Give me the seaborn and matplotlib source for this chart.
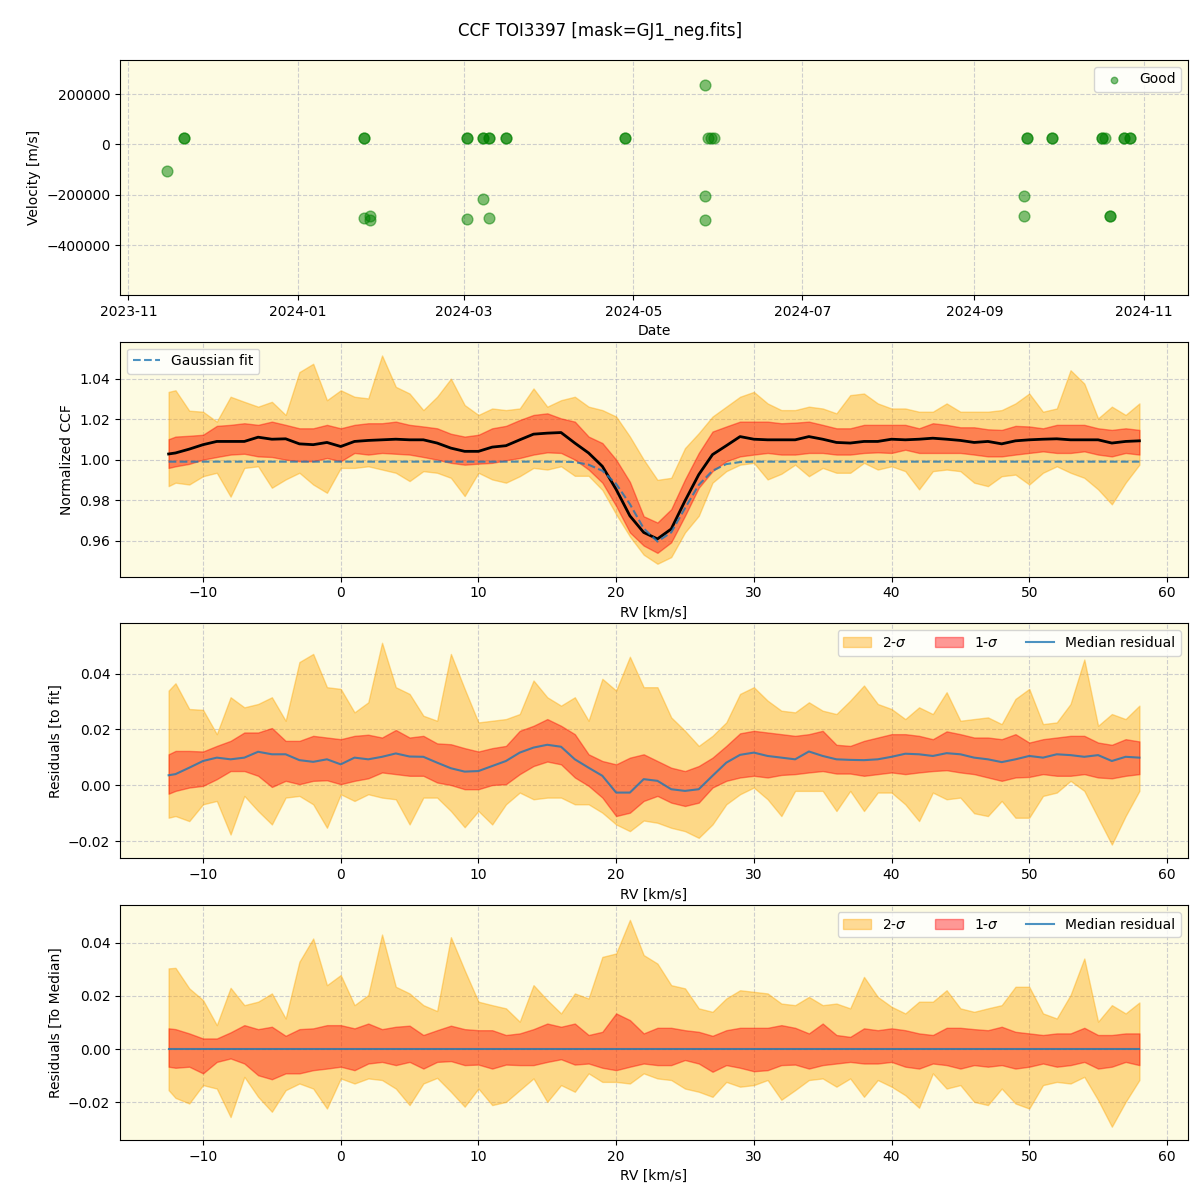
import pandas as pd
import matplotlib
matplotlib.use("Agg")
import matplotlib.pyplot as plt
import matplotlib.dates as mdates
from matplotlib.ticker import MultipleLocator
from matplotlib.patches import Patch
from matplotlib.lines import Line2D
import seaborn as sns

# %% top panel: RV per observation
obs_dates = [
    "2023-11-15", "2023-11-21", "2023-11-21",
    "2024-01-25", "2024-01-25", "2024-01-25", "2024-01-27", "2024-01-27",
    "2024-03-02", "2024-03-02", "2024-03-02",
    "2024-03-08", "2024-03-08", "2024-03-08", "2024-03-10", "2024-03-10", "2024-03-10",
    "2024-03-16", "2024-03-16", "2024-04-28", "2024-04-28",
    "2024-05-27", "2024-05-28", "2024-05-29", "2024-05-30", "2024-05-27", "2024-05-27",
    "2024-09-19", "2024-09-19", "2024-09-20", "2024-09-20", "2024-09-29", "2024-09-29",
    "2024-10-17", "2024-10-17", "2024-10-18", "2024-10-20", "2024-10-20",
    "2024-10-25", "2024-10-25", "2024-10-27", "2024-10-27",
]
obs_vel = [
    -104000, 24000, 24000,
    24000, 24000, -292000, -283000, -300000,
    24000, 24000, -296000,
    24000, 24000, -215000, 24000, 24000, -292000,
    24000, 24000, 24000, 24000,
    236000, 24000, 24000, 24000, -204000, -300000,
    -204000, -284000, 24000, 24000, 24000, 24000,
    24000, 24000, 24000, -283000, -283000,
    24000, 24000, 24000, 24000,
]

# %% RV grid (km/s)
rv = [-12.5, -12, -11, -10, -9, -8, -7, -6, -5, -4,
      -3, -2, -1, 0, 1, 2, 3, 4, 5, 6,
      7, 8, 9, 10, 11, 12, 13, 14, 15, 16,
      17, 18, 19, 20, 21, 22, 23, 24, 25, 26,
      27, 28, 29, 30, 31, 32, 33, 34, 35, 36,
      37, 38, 39, 40, 41, 42, 43, 44, 45, 46,
      47, 48, 49, 50, 51, 52, 53, 54, 55, 56,
      57, 58]

# %% normalized CCF
ccf_median = [1.0028, 1.0033, 1.0052, 1.0074, 1.0090, 1.0090, 1.0090, 1.0111, 1.0101, 1.0103,
              1.0078, 1.0074, 1.0085, 1.0065, 1.0090, 1.0095, 1.0098, 1.0101, 1.0098, 1.0098,
              1.0082, 1.0057, 1.0041, 1.0041, 1.0062, 1.0069, 1.0098, 1.0126, 1.0131, 1.0134,
              1.0082, 1.0033, 0.9967, 0.9853, 0.9722, 0.9640, 0.9608, 0.9657, 0.9796, 0.9926,
              1.0025, 1.0069, 1.0114, 1.0101, 1.0098, 1.0098, 1.0098, 1.0114, 1.0101, 1.0085,
              1.0082, 1.0090, 1.0090, 1.0101, 1.0098, 1.0101, 1.0106, 1.0101, 1.0095, 1.0085,
              1.0090, 1.0078, 1.0093, 1.0098, 1.0101, 1.0103, 1.0098, 1.0098, 1.0098, 1.0082,
              1.0090, 1.0093]
ccf_1s_hi = [1.0101, 1.0114, 1.0118, 1.0123, 1.0167, 1.0172, 1.0180, 1.0172, 1.0188, 1.0172,
             1.0155, 1.0155, 1.0172, 1.0155, 1.0172, 1.0180, 1.0180, 1.0188, 1.0172, 1.0164,
             1.0155, 1.0128, 1.0114, 1.0123, 1.0155, 1.0167, 1.0196, 1.0221, 1.0229, 1.0204,
             1.0188, 1.0114, 1.0082, 1.0000, 0.9890, 0.9720, 0.9689, 0.9755, 0.9902, 1.0033,
             1.0139, 1.0164, 1.0188, 1.0188, 1.0188, 1.0180, 1.0183, 1.0188, 1.0172, 1.0155,
             1.0155, 1.0172, 1.0172, 1.0172, 1.0172, 1.0155, 1.0180, 1.0172, 1.0160, 1.0160,
             1.0150, 1.0147, 1.0167, 1.0164, 1.0155, 1.0172, 1.0172, 1.0172, 1.0155, 1.0147,
             1.0155, 1.0147]
ccf_1s_lo = [0.9959, 0.9967, 0.9979, 1.0000, 1.0013, 1.0025, 1.0029, 1.0016, 1.0013, 1.0000,
             0.9992, 0.9992, 1.0008, 0.9992, 1.0033, 1.0025, 1.0033, 1.0029, 1.0025, 1.0013,
             1.0000, 0.9984, 0.9975, 0.9980, 0.9984, 0.9997, 1.0008, 1.0025, 1.0036, 1.0033,
             1.0000, 0.9951, 0.9886, 0.9771, 0.9640, 0.9575, 0.9539, 0.9591, 0.9722, 0.9861,
             0.9943, 0.9992, 1.0016, 1.0025, 1.0033, 1.0025, 1.0025, 1.0033, 1.0033, 1.0025,
             1.0025, 1.0033, 1.0036, 1.0033, 1.0049, 1.0033, 1.0033, 1.0033, 1.0033, 1.0025,
             1.0016, 1.0016, 1.0025, 1.0033, 1.0041, 1.0033, 1.0033, 1.0041, 1.0025, 1.0016,
             1.0033, 1.0025]
ccf_2s_hi = [1.0335, 1.0343, 1.0242, 1.0237, 1.0188, 1.0311, 1.0286, 1.0262, 1.0286, 1.0221,
             1.0433, 1.0474, 1.0294, 1.0343, 1.0311, 1.0303, 1.0515, 1.0360, 1.0327, 1.0245,
             1.0311, 1.0400, 1.0270, 1.0221, 1.0253, 1.0245, 1.0253, 1.0352, 1.0262, 1.0294,
             1.0311, 1.0262, 1.0245, 1.0213, 1.0114, 1.0000, 0.9900, 0.9910, 1.0057, 1.0131,
             1.0213, 1.0262, 1.0311, 1.0335, 1.0278, 1.0245, 1.0245, 1.0262, 1.0253, 1.0229,
             1.0319, 1.0327, 1.0278, 1.0253, 1.0253, 1.0237, 1.0237, 1.0278, 1.0237, 1.0237,
             1.0237, 1.0245, 1.0278, 1.0327, 1.0237, 1.0253, 1.0442, 1.0376, 1.0204, 1.0262,
             1.0221, 1.0278]
ccf_2s_lo = [0.9869, 0.9886, 0.9877, 0.9918, 0.9935, 0.9817, 0.9959, 0.9967, 0.9861, 0.9902,
             0.9935, 0.9877, 0.9836, 0.9959, 0.9959, 0.9967, 0.9951, 0.9935, 0.9894, 0.9943,
             0.9935, 0.9910, 0.9820, 0.9935, 0.9902, 0.9886, 0.9918, 0.9959, 0.9951, 0.9967,
             0.9920, 0.9920, 0.9850, 0.9730, 0.9620, 0.9530, 0.9485, 0.9518, 0.9640, 0.9722,
             0.9886, 0.9943, 0.9975, 0.9984, 0.9902, 0.9930, 0.9975, 0.9918, 0.9959, 0.9935,
             0.9935, 0.9984, 0.9951, 0.9967, 0.9943, 0.9853, 0.9943, 0.9951, 0.9943, 0.9886,
             0.9869, 0.9918, 0.9926, 0.9877, 0.9935, 0.9967, 0.9935, 0.9910, 0.9853, 0.9779,
             0.9886, 0.9975]
gauss_fit = [0.999, 0.999, 0.999, 0.999, 0.999, 0.999, 0.999, 0.999, 0.999, 0.999,
             0.999, 0.999, 0.999, 0.999, 0.999, 0.999, 0.999, 0.999, 0.999, 0.999,
             0.999, 0.999, 0.999, 0.999, 0.999, 0.999, 0.999, 0.999, 0.999, 0.999,
             0.9988, 0.9975, 0.9945, 0.9880, 0.9780, 0.9660, 0.9595, 0.9640, 0.9760, 0.9875,
             0.9945, 0.9978, 0.9988, 0.999, 0.999, 0.999, 0.999, 0.999, 0.999, 0.999,
             0.999, 0.999, 0.999, 0.999, 0.999, 0.999, 0.999, 0.999, 0.999, 0.999,
             0.999, 0.999, 0.999, 0.999, 0.999, 0.999, 0.999, 0.999, 0.999, 0.999,
             0.999, 0.999]

# %% residuals to the Gaussian fit
fit_median = [0.0036, 0.0040, 0.0063, 0.0087, 0.0099, 0.0093, 0.0099, 0.0120, 0.0111, 0.0111,
              0.0090, 0.0084, 0.0093, 0.0075, 0.0099, 0.0093, 0.0102, 0.0114, 0.0103, 0.0102,
              0.0081, 0.0061, 0.0049, 0.0051, 0.0069, 0.0087, 0.0117, 0.0135, 0.0145, 0.0138,
              0.0093, 0.0063, 0.0034, -0.0026, -0.0026, 0.0022, 0.0016, -0.0014, -0.0020, -0.0014,
              0.0034, 0.0081, 0.0109, 0.0117, 0.0105, 0.0099, 0.0093, 0.0121, 0.0105, 0.0093,
              0.0091, 0.0090, 0.0093, 0.0102, 0.0113, 0.0111, 0.0105, 0.0115, 0.0111, 0.0099,
              0.0093, 0.0083, 0.0093, 0.0105, 0.0099, 0.0111, 0.0108, 0.0102, 0.0108, 0.0087,
              0.0102, 0.0099]
fit_1s_hi = [0.0111, 0.0123, 0.0123, 0.0121, 0.0141, 0.0159, 0.0189, 0.0189, 0.0205, 0.0159,
             0.0159, 0.0177, 0.0171, 0.0165, 0.0177, 0.0181, 0.0171, 0.0198, 0.0171, 0.0177,
             0.0150, 0.0147, 0.0133, 0.0121, 0.0133, 0.0141, 0.0195, 0.0213, 0.0237, 0.0213,
             0.0183, 0.0111, 0.0087, 0.0075, 0.0099, 0.0111, 0.0087, 0.0063, 0.0051, 0.0069,
             0.0099, 0.0141, 0.0186, 0.0195, 0.0189, 0.0183, 0.0177, 0.0183, 0.0195, 0.0145,
             0.0141, 0.0159, 0.0171, 0.0183, 0.0183, 0.0177, 0.0165, 0.0193, 0.0183, 0.0171,
             0.0171, 0.0165, 0.0183, 0.0153, 0.0165, 0.0171, 0.0177, 0.0177, 0.0153, 0.0145,
             0.0165, 0.0157]
fit_1s_lo = [-0.0030, -0.0020, -0.0008, -0.0002, 0.0022, 0.0051, 0.0051, 0.0034, -0.0006, 0.0016,
             0.0004, 0.0016, 0.0018, 0.0004, 0.0016, 0.0025, 0.0046, 0.0040, 0.0034, 0.0034,
             0.0010, 0.0001, -0.0014, -0.0014, 0.0001, 0.0004, 0.0040, 0.0069, 0.0085, 0.0075,
             0.0028, -0.0002, -0.0044, -0.0110, -0.0098, -0.0056, -0.0038, -0.0062, -0.0074, -0.0062,
             -0.0008, 0.0016, 0.0028, 0.0034, 0.0028, 0.0037, 0.0040, 0.0046, 0.0051, 0.0042,
             0.0042, 0.0034, 0.0040, 0.0046, 0.0040, 0.0046, 0.0051, 0.0054, 0.0046, 0.0040,
             0.0028, 0.0016, 0.0028, 0.0030, 0.0040, 0.0034, 0.0034, 0.0040, 0.0028, 0.0025,
             0.0034, 0.0040]
fit_2s_hi = [0.0339, 0.0365, 0.0273, 0.0270, 0.0183, 0.0315, 0.0279, 0.0291, 0.0315, 0.0231,
             0.0441, 0.0470, 0.0351, 0.0345, 0.0261, 0.0297, 0.0510, 0.0351, 0.0327, 0.0249,
             0.0231, 0.0470, 0.0345, 0.0225, 0.0231, 0.0237, 0.0255, 0.0375, 0.0315, 0.0285,
             0.0315, 0.0231, 0.0381, 0.0339, 0.0460, 0.0351, 0.0351, 0.0243, 0.0195, 0.0141,
             0.0177, 0.0225, 0.0327, 0.0351, 0.0303, 0.0267, 0.0261, 0.0297, 0.0267, 0.0255,
             0.0303, 0.0357, 0.0291, 0.0273, 0.0237, 0.0279, 0.0255, 0.0333, 0.0231, 0.0237,
             0.0243, 0.0219, 0.0309, 0.0345, 0.0219, 0.0225, 0.0291, 0.0450, 0.0213, 0.0255,
             0.0237, 0.0285]
fit_2s_lo = [-0.0116, -0.0110, -0.0128, -0.0068, -0.0056, -0.0176, -0.0038, -0.0092, -0.0140, -0.0044,
             -0.0038, -0.0068, -0.0152, -0.0032, -0.0056, -0.0032, -0.0044, -0.0050, -0.0140, -0.0044,
             -0.0044, -0.0092, -0.0150, -0.0092, -0.0140, -0.0068, -0.0026, -0.0050, -0.0044, -0.0044,
             -0.0068, -0.0068, -0.0098, -0.0140, -0.0164, -0.0126, -0.0134, -0.0152, -0.0164, -0.0188,
             -0.0140, -0.0068, -0.0032, -0.0008, -0.0050, -0.0110, -0.0020, -0.0020, -0.0020, -0.0092,
             -0.0020, -0.0092, -0.0026, -0.0026, -0.0068, -0.0128, -0.0026, -0.0050, -0.0044, -0.0100,
             -0.0110, -0.0056, -0.0116, -0.0116, -0.0038, -0.0026, 0.0016, -0.0020, -0.0116, -0.0212,
             -0.0110, -0.0020]

# %% residuals to the median CCF
med_median = [0.0] * 72
med_1s_hi = [0.0078, 0.0075, 0.0059, 0.0040, 0.0040, 0.0063, 0.0090, 0.0075, 0.0084, 0.0050,
             0.0075, 0.0078, 0.0090, 0.0090, 0.0078, 0.0096, 0.0075, 0.0084, 0.0088, 0.0053,
             0.0071, 0.0088, 0.0075, 0.0071, 0.0071, 0.0053, 0.0059, 0.0075, 0.0096, 0.0084,
             0.0096, 0.0053, 0.0065, 0.0134, 0.0109, 0.0059, 0.0080, 0.0080, 0.0071, 0.0065,
             0.0050, 0.0071, 0.0080, 0.0080, 0.0080, 0.0090, 0.0080, 0.0059, 0.0096, 0.0053,
             0.0046, 0.0078, 0.0071, 0.0078, 0.0071, 0.0059, 0.0053, 0.0080, 0.0080, 0.0075,
             0.0071, 0.0084, 0.0065, 0.0059, 0.0053, 0.0059, 0.0059, 0.0080, 0.0053, 0.0053,
             0.0059, 0.0059]
med_1s_lo = [-0.0066, -0.0070, -0.0066, -0.0091, -0.0048, -0.0035, -0.0054, -0.0098, -0.0113, -0.0091,
             -0.0091, -0.0079, -0.0073, -0.0066, -0.0079, -0.0054, -0.0048, -0.0060, -0.0048, -0.0073,
             -0.0048, -0.0045, -0.0060, -0.0058, -0.0073, -0.0058, -0.0060, -0.0060, -0.0048, -0.0038,
             -0.0058, -0.0054, -0.0070, -0.0079, -0.0066, -0.0054, -0.0060, -0.0060, -0.0041, -0.0054,
             -0.0085, -0.0060, -0.0070, -0.0083, -0.0079, -0.0060, -0.0058, -0.0073, -0.0060, -0.0054,
             -0.0048, -0.0054, -0.0054, -0.0048, -0.0066, -0.0073, -0.0054, -0.0060, -0.0073, -0.0060,
             -0.0066, -0.0060, -0.0073, -0.0066, -0.0054, -0.0066, -0.0060, -0.0048, -0.0073, -0.0066,
             -0.0048, -0.0060]
med_2s_hi = [0.0303, 0.0305, 0.0228, 0.0184, 0.0090, 0.0230, 0.0165, 0.0178, 0.0209, 0.0115,
             0.0328, 0.0415, 0.0240, 0.0278, 0.0165, 0.0203, 0.0430, 0.0234, 0.0209, 0.0165,
             0.0143, 0.0420, 0.0296, 0.0178, 0.0165, 0.0153, 0.0103, 0.0240, 0.0184, 0.0134,
             0.0209, 0.0190, 0.0346, 0.0359, 0.0485, 0.0353, 0.0321, 0.0240, 0.0228, 0.0153,
             0.0140, 0.0190, 0.0221, 0.0215, 0.0209, 0.0171, 0.0165, 0.0196, 0.0165, 0.0171,
             0.0153, 0.0271, 0.0196, 0.0159, 0.0134, 0.0178, 0.0178, 0.0221, 0.0153, 0.0140,
             0.0153, 0.0165, 0.0234, 0.0234, 0.0134, 0.0115, 0.0203, 0.0340, 0.0103, 0.0165,
             0.0134, 0.0175]
med_2s_lo = [-0.0154, -0.0183, -0.0204, -0.0135, -0.0148, -0.0255, -0.0104, -0.0179, -0.0235, -0.0154,
             -0.0129, -0.0148, -0.0223, -0.0110, -0.0129, -0.0110, -0.0116, -0.0148, -0.0210, -0.0129,
             -0.0108, -0.0160, -0.0216, -0.0148, -0.0210, -0.0198, -0.0154, -0.0110, -0.0198, -0.0135,
             -0.0160, -0.0091, -0.0123, -0.0123, -0.0129, -0.0091, -0.0110, -0.0116, -0.0148, -0.0160,
             -0.0179, -0.0123, -0.0141, -0.0135, -0.0116, -0.0190, -0.0154, -0.0116, -0.0110, -0.0141,
             -0.0110, -0.0179, -0.0116, -0.0141, -0.0173, -0.0220, -0.0091, -0.0148, -0.0135, -0.0198,
             -0.0210, -0.0148, -0.0204, -0.0223, -0.0135, -0.0123, -0.0129, -0.0104, -0.0191, -0.0291,
             -0.0198, -0.0116]

# %% plotting
bg = "#fdfbe2"
fig, axes = plt.subplots(4, 1, figsize=(12, 12), dpi=100)
fig.subplots_adjust(left=0.1, right=0.99, top=0.95, bottom=0.05, hspace=0.2)
fig.suptitle("CCF TOI3397 [mask=GJ1_neg.fits]", fontsize=12, y=0.982)

for ax in axes:
    ax.set_facecolor(bg)
    ax.grid(True, linestyle="--", color="#b0b0c0", alpha=0.6)
    ax.set_axisbelow(True)

# 1. velocity vs date
ax = axes[0]
vel_df = pd.DataFrame({"date": pd.to_datetime(obs_dates), "vel": obs_vel})
sns.scatterplot(data=vel_df, x="date", y="vel", color="green", alpha=0.5, s=60,
                edgecolor="green", linewidth=1, label="Good", ax=ax)
ax.legend(loc="upper right", markerscale=0.6)
ax.set_xlim(pd.Timestamp("2023-10-29"), pd.Timestamp("2024-11-17"))
ax.set_ylim(-598000, 336000)
ax.yaxis.set_major_locator(MultipleLocator(200000))
ax.xaxis.set_major_locator(mdates.MonthLocator(bymonth=[1, 3, 5, 7, 9, 11]))
ax.xaxis.set_major_formatter(mdates.DateFormatter("%Y-%m"))
ax.set_xlabel("Date")
ax.set_ylabel("Velocity [m/s]")

# 2. normalized CCF
ax = axes[1]
ax.fill_between(rv, ccf_2s_lo, ccf_2s_hi, color="orange", alpha=0.4)
ax.fill_between(rv, ccf_1s_lo, ccf_1s_hi, color="red", alpha=0.4)
sns.lineplot(x=rv, y=ccf_median, color="black", linewidth=2, ax=ax, legend=False)
sns.lineplot(x=rv, y=gauss_fit, color="C0", linestyle="--", linewidth=1.5, alpha=0.8,
             ax=ax, legend=False)
ax.legend(handles=[Line2D([], [], color="C0", ls="--", lw=1.5, alpha=0.8, label="Gaussian fit")],
          loc="upper left")
ax.set_ylim(0.9422, 1.0583)
ax.yaxis.set_major_locator(MultipleLocator(0.02))
ax.set_ylabel("Normalized CCF")

# 3 & 4. residual panels
resid_sets = [
    (axes[2], fit_median, fit_1s_lo, fit_1s_hi, fit_2s_lo, fit_2s_hi, "Residuals [to fit]", (-0.0261, 0.0579)),
    (axes[3], med_median, med_1s_lo, med_1s_hi, med_2s_lo, med_2s_hi, "Residuals [To Median]", (-0.0341, 0.054)),
]
for ax, med, lo1, hi1, lo2, hi2, ylab, ylim in resid_sets:
    ax.fill_between(rv, lo2, hi2, color="orange", alpha=0.4)
    ax.fill_between(rv, lo1, hi1, color="red", alpha=0.4)
    sns.lineplot(x=rv, y=med, color="C0", linewidth=1.5, alpha=0.8, ax=ax, legend=False)
    handles = [
        Patch(facecolor="orange", edgecolor="orange", alpha=0.4, label="2-$\\sigma$"),
        Patch(facecolor="red", edgecolor="red", alpha=0.4, label="1-$\\sigma$"),
        Line2D([], [], color="C0", lw=1.5, alpha=0.8, label="Median residual"),
    ]
    ax.legend(handles=handles, loc="upper right", ncol=3)
    ax.set_ylim(*ylim)
    ax.yaxis.set_major_locator(MultipleLocator(0.02))
    ax.set_ylabel(ylab)

for ax in axes[1:]:
    ax.set_xlim(-16.03, 61.53)
    ax.set_xlabel("RV [km/s]")

plt.savefig("out.png", dpi=100)
